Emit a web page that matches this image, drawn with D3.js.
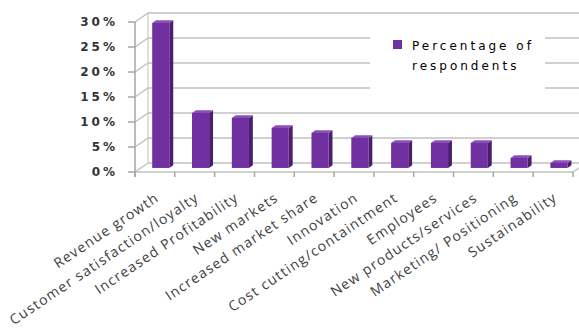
<!DOCTYPE html>
<html><head><meta charset="utf-8">
<script src="https://cdn.jsdelivr.net/npm/d3@7"></script>
<style>body{margin:0;background:#fff}svg{display:block}</style>
</head><body>
<svg id="chart" width="579" height="331"></svg>
<script>
const categories = ["Revenue growth","Customer satisfaction/loyalty","Increased Profitability","New markets","Increased market share","Innovation","Cost cutting/containtment","Employees","New products/services","Marketing/ Positioning","Sustainability"];
const values = [29, 11, 10, 8, 7, 6, 5, 5, 5, 2, 1];
const yTicks = [0, 5, 10, 15, 20, 25, 30];
const seriesName = ["Percentage of", "respondents"];

const svg = d3.select("#chart");
const X0 = 135, X1 = 573, Y0 = 172, Y1 = 22;
const DX = 13, DY = -9; // depth vector
const x = d3.scaleBand().domain(categories).range([X0, X1]);
const y = d3.scaleLinear().domain([0, 30]).range([Y0, Y1]);
const grid = "#c0c0c0";

const g = svg.append("g");
// back wall gridlines
g.selectAll("line.back").data(yTicks).join("line")
  .attr("x1", X0 + DX).attr("x2", X1 + DX)
  .attr("y1", d => y(d) + DY).attr("y2", d => y(d) + DY)
  .attr("stroke", grid).attr("stroke-width", 1.5);
// side wall slants
g.selectAll("line.side").data(yTicks).join("line")
  .attr("x1", X0).attr("x2", X0 + DX)
  .attr("y1", d => y(d)).attr("y2", d => y(d) + DY)
  .attr("stroke", grid).attr("stroke-width", 1.5);
g.append("line").attr("x1", X0 + DX).attr("x2", X0 + DX).attr("y1", y(30) + DY).attr("y2", y(0) + DY)
  .attr("stroke", grid).attr("stroke-width", 1);
// floor
g.append("line").attr("x1", X0).attr("x2", X1).attr("y1", Y0).attr("y2", Y0).attr("stroke", grid).attr("stroke-width", 1.5);
g.append("line").attr("x1", X1).attr("x2", X1 + DX).attr("y1", Y0).attr("y2", Y0 + DY).attr("stroke", grid).attr("stroke-width", 1.5);
// axis + ticks
g.append("line").attr("x1", X0).attr("x2", X0).attr("y1", Y1).attr("y2", Y0 + 5).attr("stroke", "#a6a6a6").attr("stroke-width", 1.5);
g.selectAll("line.yt").data(yTicks).join("line")
  .attr("x1", X0 - 7).attr("x2", X0).attr("y1", d => y(d)).attr("y2", d => y(d))
  .attr("stroke", "#a6a6a6").attr("stroke-width", 1.5);
const bounds = categories.map(c => x(c)).concat([X1]);
g.selectAll("line.xt").data(bounds).join("line")
  .attr("x1", d => d).attr("x2", d => d).attr("y1", Y0).attr("y2", Y0 + 5)
  .attr("stroke", "#a6a6a6").attr("stroke-width", 1.5);

// legend
g.append("rect").attr("x", 370).attr("y", 21).attr("width", 175).attr("height", 84).attr("fill", "#fff");
g.append("rect").attr("x", 393).attr("y", 40).attr("width", 9).attr("height", 9).attr("fill", "#7030a0");
g.append("text").attr("x", 412).attr("y", 50).attr("font-family", "DejaVu Sans").attr("font-size", 12)
  .attr("letter-spacing", 3).attr("fill", "#000").text(seriesName[0]);
g.append("text").attr("x", 412).attr("y", 70).attr("font-family", "DejaVu Sans").attr("font-size", 12)
  .attr("letter-spacing", 3).attr("fill", "#000").text(seriesName[1]);

// bars
const bw = x.bandwidth() * 0.43;
const fz = 0.45, bz = 0.30;
const bars = g.selectAll("g.bar").data(categories.map((c, i) => ({c, v: values[i]}))).join("g");
bars.each(function(d) {
  const gg = d3.select(this);
  const xl = x(d.c) + (x.bandwidth() - bw) / 2 + DX * fz;
  const xr = xl + bw;
  const yb = y(0) + DY * fz;
  const yt = y(d.v) + DY * fz;
  const ox = DX * bz, oy = DY * bz;
  gg.append("polygon").attr("points", [[xr, yt], [xr + ox, yt + oy], [xr + ox, yb + oy], [xr, yb]].join(" ")).attr("fill", "#4b1f6e");
  gg.append("polygon").attr("points", [[xl, yt], [xl + ox, yt + oy], [xr + ox, yt + oy], [xr, yt]].join(" ")).attr("fill", "#8b4fbd");
  gg.append("rect").attr("x", xl).attr("y", yt).attr("width", bw).attr("height", yb - yt).attr("fill", "#7030a0");
});

// y labels
g.selectAll("text.yl").data(yTicks).join("text")
  .attr("x", 118).attr("y", d => y(d)).attr("dy", "0.35em").attr("text-anchor", "end")
  .attr("font-family", "DejaVu Sans").attr("font-weight", "bold").attr("font-size", 12)
  .attr("letter-spacing", 3).attr("fill", "#333").text(d => d + "%");

// x labels
g.selectAll("text.xl").data(categories).join("text")
  .attr("transform", d => `translate(${x(d) + x.bandwidth() / 2 + 5},200) rotate(-34)`)
  .attr("text-anchor", "end")
  .attr("font-family", "Open Sans").attr("font-size", 14).attr("letter-spacing", 1.2)
  .attr("fill", "#404040").text(d => d);
</script>
</body></html>
